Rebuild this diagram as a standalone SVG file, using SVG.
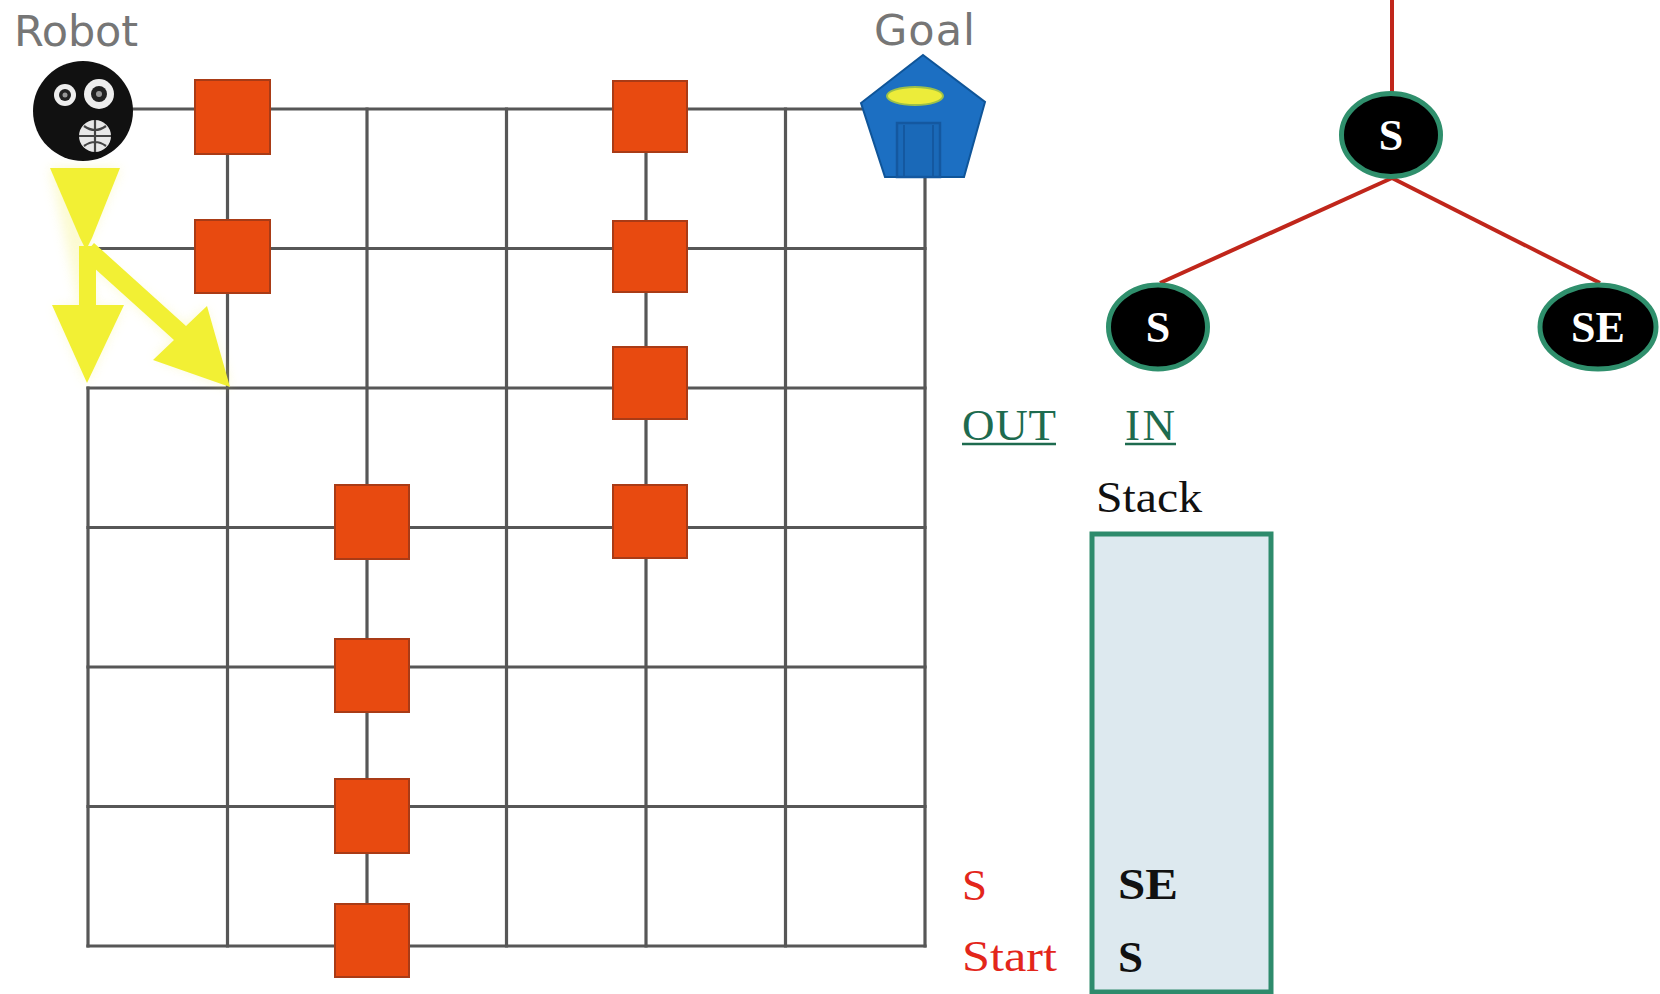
<svg xmlns="http://www.w3.org/2000/svg" width="1660" height="994" viewBox="0 0 1660 994">
  <defs>
    <style>
      .grid { stroke: #575757; stroke-width: 3.2; fill: none; stroke-linecap: square; }
      .block { fill: #e84a10; stroke: #a93b16; stroke-width: 2; }
      .label { font-family: "DejaVu Sans", "Liberation Sans", sans-serif; font-size: 43px; fill: #767676; }
      .edge { stroke: #c0261b; stroke-width: 4; fill: none; }
      .tnode { fill: #000; stroke: #2f8f6c; stroke-width: 5; }
      .tlabel { font-family: "Liberation Serif", "Times New Roman", serif; font-weight: bold; font-size: 44px; fill: #fff; text-anchor: middle; }
      .serif { font-family: "Liberation Serif", "Times New Roman", serif; font-size: 45px; }
      .head { fill: #1e6b4f; }
      .red { fill: #e3261b; }
      .arrow { fill: #f2f034; }
    </style>
    <filter id="glow" x="-30%" y="-30%" width="160%" height="160%">
      <feGaussianBlur stdDeviation="6"/>
    </filter>
  </defs>

  <rect width="1660" height="994" fill="#fff"/>

  <!-- board grid -->
  <g id="grid">
    <line class="grid" x1="88" y1="388" x2="88" y2="946"/>
    <line class="grid" x1="227.5" y1="109" x2="227.5" y2="946"/>
    <line class="grid" x1="367" y1="109" x2="367" y2="946"/>
    <line class="grid" x1="506.5" y1="109" x2="506.5" y2="946"/>
    <line class="grid" x1="646" y1="109" x2="646" y2="946"/>
    <line class="grid" x1="785.5" y1="109" x2="785.5" y2="946"/>
    <line class="grid" x1="925" y1="175" x2="925" y2="946"/>
    <line class="grid" x1="130" y1="109" x2="865" y2="109"/>
    <line class="grid" x1="88" y1="248.5" x2="925" y2="248.5"/>
    <line class="grid" x1="88" y1="388" x2="925" y2="388"/>
    <line class="grid" x1="88" y1="527.5" x2="925" y2="527.5"/>
    <line class="grid" x1="88" y1="667" x2="925" y2="667"/>
    <line class="grid" x1="88" y1="806.5" x2="925" y2="806.5"/>
    <line class="grid" x1="88" y1="946" x2="925" y2="946"/>
  </g>

  <!-- obstacle blocks -->
  <g id="obstacles">
    <rect class="block" x="195" y="80" width="75" height="74"/>
    <rect class="block" x="195" y="220" width="75" height="73"/>
    <rect class="block" x="613" y="81" width="74" height="71"/>
    <rect class="block" x="613" y="221" width="74" height="71"/>
    <rect class="block" x="613" y="347" width="74" height="72"/>
    <rect class="block" x="613" y="485" width="74" height="73"/>
    <rect class="block" x="335" y="485" width="74" height="74"/>
    <rect class="block" x="335" y="639" width="74" height="73"/>
    <rect class="block" x="335" y="779" width="74" height="74"/>
    <rect class="block" x="335" y="904" width="74" height="73"/>
  </g>

  <!-- moves available from the start cell -->
  <g id="moves">
    <g opacity="0.35" filter="url(#glow)">
      <polygon fill="#f6f27a" points="50,168 120,168 86,248 95,307 122,307 87,383 55,307 80,307"/>
      <polygon fill="#f6f27a" points="86,248 186,326 205,308 230,387 155,358 174,340 82,257"/>
    </g>
    <polygon class="arrow" points="50,168 120,168 92,238 86,250 80,238"/>
    <polygon class="arrow" points="79,246 96,246 96,305 124,305 87,383 52,305 79,305"/>
    <polygon class="arrow" points="94,243 186,326 207,306 230,387 153,360 174,340 82,257"/>
  </g>

  <!-- robot -->
  <g id="robot">
    <text class="label" x="14" y="46" textLength="124">Robot</text>
    <circle cx="83" cy="111" r="50" fill="#111"/>
    <circle cx="65" cy="95" r="11" fill="#eee"/>
    <circle cx="65" cy="95" r="6" fill="#222"/>
    <circle cx="65" cy="95" r="2.5" fill="#999"/>
    <circle cx="99" cy="94" r="15" fill="#eee"/>
    <circle cx="99" cy="94" r="8" fill="#222"/>
    <circle cx="99" cy="94" r="3" fill="#999"/>
    <circle cx="95" cy="136" r="16" fill="#e8e8e8"/>
    <path d="M79,136 H111 M95,120 V152 M84,126 Q95,134 106,126 M84,146 Q95,138 106,146" stroke="#444" stroke-width="2.2" fill="none"/>
  </g>

  <!-- goal -->
  <g id="goal">
    <text class="label" x="874" y="45" textLength="101">Goal</text>
    <polygon points="923,55 985,102 964,177 885,177 861,103" fill="#1c6fc2" stroke="#0f5599" stroke-width="2"/>
    <rect x="897" y="123" width="43" height="54" fill="#1a69b8" stroke="#1458a0" stroke-width="2.5"/>
    <line x1="904" y1="125" x2="904" y2="176" stroke="#1458a0" stroke-width="2"/>
    <line x1="933" y1="125" x2="933" y2="176" stroke="#1458a0" stroke-width="2"/>
    <ellipse cx="915" cy="96" rx="28" ry="9" fill="#ecec3a" stroke="#9cc04a" stroke-width="2"/>
  </g>

  <!-- search tree edges -->
  <g id="tree-edges">
    <line class="edge" x1="1392" y1="0" x2="1392" y2="93"/>
    <line class="edge" x1="1392" y1="178" x2="1160" y2="283"/>
    <line class="edge" x1="1392" y1="178" x2="1600" y2="283"/>
  </g>

  <g id="node-root">
    <ellipse class="tnode" cx="1391" cy="135" rx="49.5" ry="41.5"/>
    <text class="tlabel" x="1391" y="150">S</text>
  </g>
  <g id="node-s">
    <ellipse class="tnode" cx="1158" cy="327" rx="49.5" ry="42"/>
    <text class="tlabel" x="1158" y="342">S</text>
  </g>
  <g id="node-se">
    <ellipse class="tnode" cx="1598" cy="327" rx="58" ry="42"/>
    <text class="tlabel" x="1598" y="342">SE</text>
  </g>

  <!-- stack -->
  <g id="stack">
    <text class="serif head" x="962" y="440" textLength="94">OUT</text>
    <line x1="962" y1="444" x2="1056" y2="444" stroke="#1e6b4f" stroke-width="2.5"/>
    <text class="serif head" x="1125" y="440" textLength="50">IN</text>
    <line x1="1125" y1="444" x2="1176" y2="444" stroke="#1e6b4f" stroke-width="2.5"/>
    <text class="serif" x="1096" y="512" fill="#111" textLength="106" lengthAdjust="spacingAndGlyphs">Stack</text>
    <rect x="1092" y="534" width="179" height="458" fill="#dde9ef" stroke="#2e8b6c" stroke-width="5"/>
    <text class="serif" x="1118" y="899" fill="#111" font-weight="bold" textLength="60" lengthAdjust="spacingAndGlyphs">SE</text>
    <text class="serif" x="1118" y="972" fill="#111" font-weight="bold">S</text>
    <text class="serif red" x="962" y="900">S</text>
    <text class="serif red" x="962" y="971" textLength="95" lengthAdjust="spacingAndGlyphs">Start</text>
  </g>
</svg>
